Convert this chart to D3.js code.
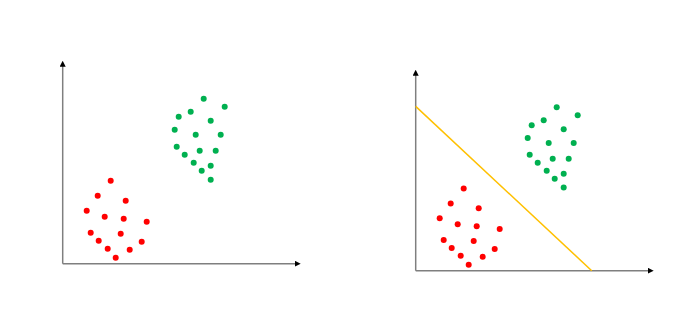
<!DOCTYPE html>
<html>
<head>
<meta charset="utf-8">
<script src="https://cdn.jsdelivr.net/npm/d3@7"></script>
<style>
  body { margin: 0; background: #fff; }
  svg { display: block; }
</style>
</head>
<body>
<svg id="chart" width="686" height="309"></svg>
<script>
"use strict"

// two clusters, same points drawn in both panels
const red_x = [4.8, 3.5, 6.3, 2.4, 4.2, 6.1, 8.4, 2.8, 5.8, 3.6, 7.9, 4.5, 6.7, 5.3];
const red_y = [8.3, 6.8, 6.3, 5.3, 4.7, 4.5, 4.2, 3.1, 3.0, 2.3, 2.2, 1.5, 1.4, 0.6];

const green_x = [14.1, 16.2, 12.8, 11.6, 14.8, 11.2, 13.3, 15.8, 11.4, 13.7, 15.3, 12.2, 13.1, 14.8, 13.9, 14.8];
const green_y = [16.5, 15.7, 15.2, 14.7, 14.3, 13.4, 12.9, 12.9, 11.7, 11.3, 11.3, 10.9, 10.1, 9.8, 9.3, 8.4];

// separating line (right panel only), endpoints in data units
const line_x = [0, 17.6];
const line_y = [16.6, 0];

const svg = d3.select("#chart");

svg.append("defs").append("marker")
    .attr("id", "arrow")
    .attr("viewBox", "0 0 10 10")
    .attr("refX", 5).attr("refY", 5)
    .attr("markerWidth", 4).attr("markerHeight", 4)
    .attr("orient", "auto")
    .append("path")
    .attr("d", "M0,0 L10,5 L0,10 Z")
    .attr("fill", "#000");

//draws one panel; ox/oy is the origin in pixels
function draw_panel(ox, oy, height, with_line) {
    const x = d3.scaleLinear().domain([0, 23.5]).range([ox, ox + 235]);
    const y = d3.scaleLinear().domain([0, 20]).range([oy, oy - height]);

    const g = svg.append("g");

    //axes
    g.append("line")
        .attr("x1", x(0)).attr("y1", y(0))
        .attr("x2", x(23.5)).attr("y2", y(0))
        .attr("stroke", "#7f7f7f").attr("stroke-width", 1.5)
        .attr("marker-end", "url(#arrow)");
    g.append("line")
        .attr("x1", x(0)).attr("y1", y(0))
        .attr("x2", x(0)).attr("y2", y(20))
        .attr("stroke", "#7f7f7f").attr("stroke-width", 1.5)
        .attr("marker-end", "url(#arrow)");

    if (with_line) {
        g.append("line")
            .attr("x1", x(line_x[0])).attr("y1", y(line_y[0]))
            .attr("x2", x(line_x[1])).attr("y2", y(line_y[1]))
            .attr("stroke", "#ffc000").attr("stroke-width", 1.5);
    }

    g.selectAll(".red").data(red_x).join("circle")
        .attr("cx", d => x(d))
        .attr("cy", (d, i) => y(red_y[i]))
        .attr("r", 3)
        .attr("fill", "#ff0000");

    g.selectAll(".green").data(green_x).join("circle")
        .attr("cx", d => x(d))
        .attr("cy", (d, i) => y(green_y[i]))
        .attr("r", 3)
        .attr("fill", "#00b050");
}

draw_panel(62.7, 263.7, 200, false);
draw_panel(415.7, 270.7, 198, true);
</script>
</body>
</html>
